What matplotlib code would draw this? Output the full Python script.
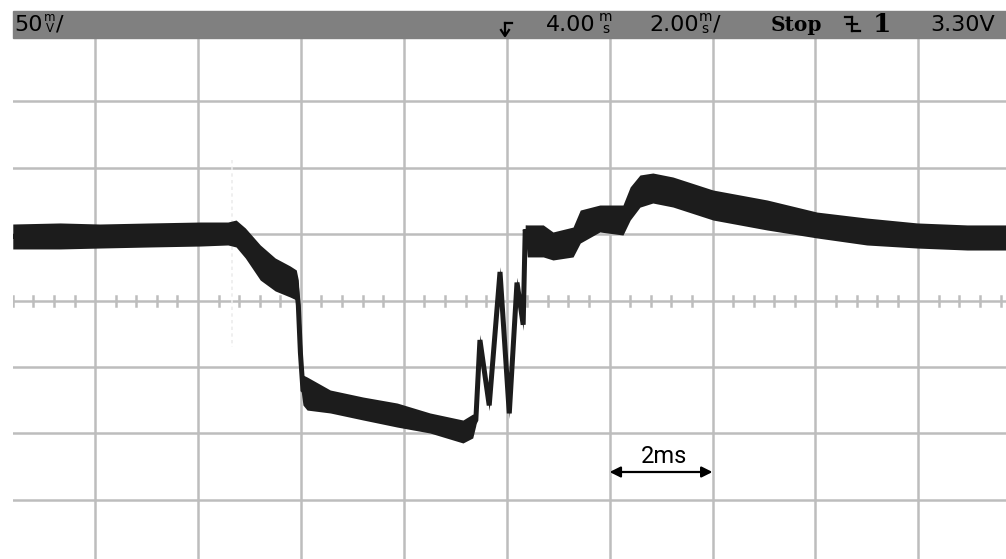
import matplotlib
matplotlib.use("Agg")
import matplotlib.pyplot as plt
from matplotlib.patches import Rectangle
from matplotlib.lines import Line2D
import numpy as np

# 示波器截图复刻: 50mV/div, 2ms/div
W, H = 1006, 559
TIME_DIV = 2.0     # ms / div
VOLT_DIV = 50.0    # mV / div

# 波形包络 (时间 ms, 上沿 mV, 下沿 mV), 从截图读取
trace_t = [-9.60, -8.68, -7.91, -6.93, -5.96, -5.42, -5.26, -5.08, -4.79, -4.50,
           -4.21, -4.09, -4.05, -4.01, -3.96, -3.88, -3.43, -2.79, -2.13, -1.49,
           -0.85, -0.66,
           -0.60, -0.52, -0.34, -0.13, 0.05, 0.20, 0.32, 0.36,
           0.40, 0.71, 0.90, 1.29, 1.43, 1.81, 2.26, 2.40, 2.59, 2.84,
           3.23, 4.01, 5.06, 6.03, 7.00, 7.98, 8.95, 9.71]
trace_hi = [57.6, 58.4, 57.6, 58.4, 59.1, 59.1, 60.6, 54.6, 41.8, 32.0,
            26.0, 23.0, 15.4, -14.7, -56.1, -57.6, -67.4, -72.7, -77.2, -84.7,
            -90.0, -85.5,
            -86.0, -25.5, -75.0, 25.5, -81.0, 17.5, -14.0, 57.0,
            56.9, 56.9, 51.6, 55.3, 68.1, 71.9, 71.9, 85.5, 94.5, 96.0,
            93.0, 83.2, 75.7, 66.6, 62.1, 58.4, 56.9, 56.9]
trace_lo = [38.8, 38.8, 39.5, 40.3, 41.0, 41.8, 40.3, 32.0, 15.4, 7.2,
            2.6, 0.4, -22.2, -63.6, -78.7, -82.5, -84.7, -90.0, -95.3, -99.8,
            -107.3, -103.5,
            -94.0, -34.0, -83.0, 17.5, -89.0, 9.5, -22.5, 50.0,
            32.8, 32.8, 30.5, 32.8, 43.3, 51.6, 49.3, 60.6, 70.3, 73.4,
            70.4, 60.6, 53.1, 47.1, 41.8, 39.5, 38.0, 38.0]

# 余辉 (淡灰色竖线)
ghost_t = [-5.34, -5.34]
ghost_v = [105.8, -35.0]

# 像素 -> 坐标
X0, XC, XS = 13, 506.7, 102.9
YT, YC, YS = 38, 300.5, 66.4


def fx(px):
    return px / W


def fy(py):
    return 1 - py / H


fig = plt.figure(figsize=(W / 100, H / 100), dpi=100)
fig.patch.set_facecolor("white")

ax = fig.add_axes([fx(X0), 0, 1 - fx(X0), 1 - YT / H])
ax.set_xlim((X0 - XC) / XS * TIME_DIV, (W - XC) / XS * TIME_DIV)
ax.set_ylim((YC - H) / YS * VOLT_DIV, (YC - YT) / YS * VOLT_DIV)
ax.axis("off")

# 网格
grid_c = "#bdbdbd"
for k in range(-5, 6):
    ax.axvline(k * TIME_DIV, color=grid_c, lw=1.8, zorder=1)
for k in range(-4, 5):
    ax.axhline(k * VOLT_DIV, color=grid_c, lw=1.8, zorder=1)
# 中心线小刻度
tick_h = 5 / YS * VOLT_DIV
for k in range(-30, 31):
    if k % 5 == 0:
        continue
    tx = k * TIME_DIV / 5
    ax.plot([tx, tx], [-tick_h, tick_h], color=grid_c, lw=1.8, zorder=1)

ax.plot(ghost_t, ghost_v, color="#ececec", lw=1.2, ls=(0, (2, 2)), zorder=2)

# 波形
t = np.array(trace_t)
hi = np.array(trace_hi)
lo = np.array(trace_lo)
ax.fill_between(t, lo, hi, color="#1c1c1c", lw=0, zorder=3)
ax.plot(t, (hi + lo) / 2, color="#1c1c1c", lw=3.6, solid_joinstyle="miter", zorder=3)

# 2ms 标注
ya = (YC - 472) / YS * VOLT_DIV
ax.annotate("", xy=(4.0, ya), xytext=(2.0, ya),
            arrowprops=dict(arrowstyle="<|-|>", color="black", lw=1.6,
                            mutation_scale=16, shrinkA=0, shrinkB=0), zorder=4)
ax.text(3.05, (YC - 463) / YS * VOLT_DIV, "2ms", ha="center", va="baseline",
        fontsize=17, family="Roboto", color="black", zorder=4)

# 顶部状态栏
fig.patches.append(Rectangle((fx(X0), fy(38)), 1 - fx(X0), 27 / H,
                             transform=fig.transFigure, color="#808080", zorder=5))
hdr = dict(fontsize=16, family="DejaVu Sans", va="baseline", color="black", zorder=6)
stack = dict(family="DejaVu Sans", ha="center", va="center", linespacing=0.75,
             color="black", zorder=6)

fig.text(fx(14), fy(31), "50", **hdr)
fig.text(fx(50), fy(23), "m\nV", fontsize=8.5, **stack)
fig.text(fx(56), fy(31), "/", **hdr)

fig.text(fx(546), fy(31), "4.00", **hdr)
fig.text(fx(606), fy(23), "m\ns", fontsize=10, **stack)

fig.text(fx(649), fy(31), "2.00", **hdr)
fig.text(fx(705), fy(23), "m\ns", fontsize=10, **stack)
fig.text(fx(713), fy(31), "/", **hdr)

fig.text(fx(771), fy(31), "Stop", fontsize=14.5, family="DejaVu Serif",
         weight="bold", va="baseline", color="black", zorder=6)
fig.text(fx(873), fy(32), "1", fontsize=19, family="DejaVu Serif",
         weight="bold", va="baseline", color="black", zorder=6)
fig.text(fx(930), fy(31), "3.30V", **hdr)

# 触发位置标记
for seg in [((505, 23), (512, 23)), ((505, 23), (505, 35))]:
    (x1, y1), (x2, y2) = seg
    fig.add_artist(Line2D([fx(x1), fx(x2)], [fy(y1), fy(y2)], color="black", lw=1.6, zorder=6))
fig.add_artist(Line2D([fx(501), fx(505), fx(509)], [fy(30), fy(36), fy(30)],
                      color="black", lw=1.6, zorder=6))
# 下降沿触发符号
for seg in [((845, 17), (852, 17)), ((852, 17), (852, 31)), ((852, 31), (860, 31)),
            ((847, 24), (857, 24))]:
    (x1, y1), (x2, y2) = seg
    fig.add_artist(Line2D([fx(x1), fx(x2)], [fy(y1), fy(y2)], color="black", lw=1.6, zorder=6))

fig.savefig("out.png", dpi=100, facecolor="white")
